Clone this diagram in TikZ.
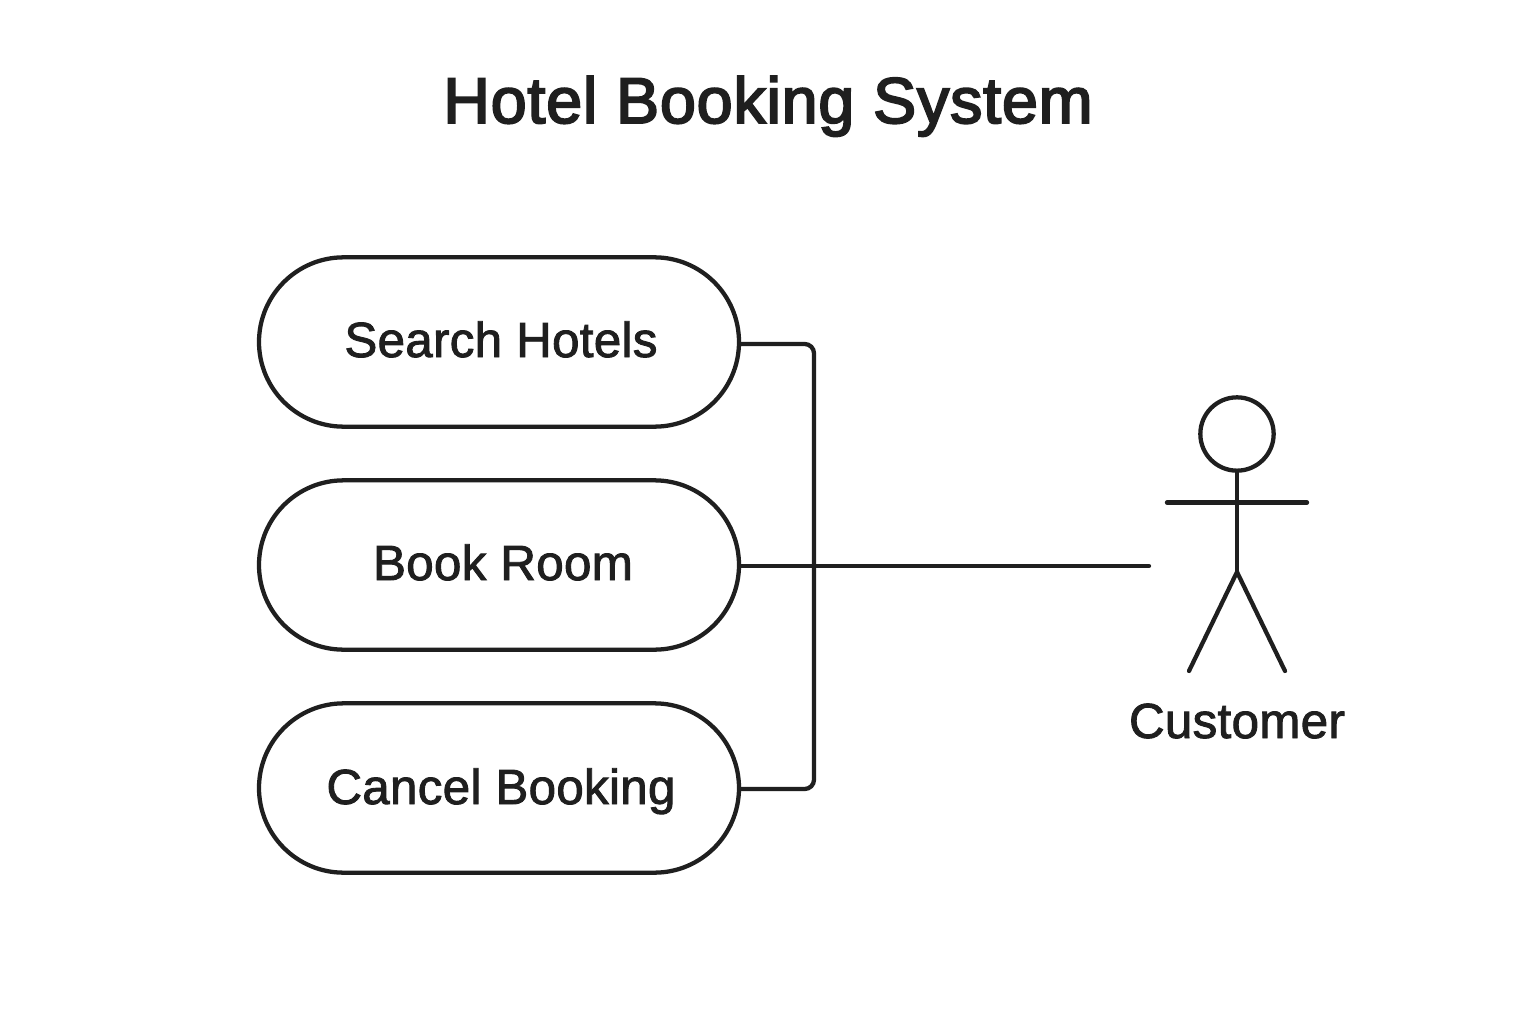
\documentclass[tikz,border=0pt]{standalone}
\usepackage{fontspec}
\setmainfont{Liberation Sans}
\newfontfamily\labelfont[FakeBold=1.8,LetterSpace=0.6]{Liberation Sans}
\newfontfamily\titlefont[FakeBold=3,LetterSpace=1.2]{Liberation Sans}
\definecolor{ink}{HTML}{1F1F1F}
\tikzset{
  px/.style={x=0.75pt,y=-0.75pt},
  usecase/.style={draw=ink,line width=3.2pt,rounded corners=63.5pt,minimum width=360pt,minimum height=127pt,inner sep=0pt},
  conn/.style={draw=ink,line width=3.2pt},
  stick/.style={draw=ink,line width=3.2pt,line cap=round},
  lbl/.style={text=ink,inner sep=0pt,anchor=base,font=\labelfont\fontsize{37}{42}\selectfont}
}
\begin{document}
\begin{tikzpicture}[px]
\useasboundingbox (0,0) rectangle (1536,1024);
\fill[white] (0,0) rectangle (1536,1024);
\node[lbl,font=\titlefont\fontsize{48.5}{56}\selectfont] (title) at (768,123) {Hotel Booking System};
\node[usecase] (search) at (499,342) {};
\node[usecase] (book) at (499,565) {};
\node[usecase] (cancel) at (499,788) {};
\node[lbl] (t1) at (501,357) {Search Hotels};
\node[lbl] (t2) at (503,580) {Book Room};
\node[lbl] (t3) at (501,804) {Cancel Booking};
\coordinate (actorend) at (1149,566);
\draw[conn,rounded corners=7pt] (search.east |- 0,344) -- (814,344) -- (814,789) -- (cancel.east |- 0,789);
\draw[conn,line cap=round] (book.east |- actorend) -- (actorend);
\node[draw=ink,line width=3.2pt,circle,minimum size=55pt,inner sep=0pt] (head) at (1237,434) {};
\coordinate (hip) at (1237,572);
\coordinate (armL) at (1167,502.5);
\coordinate (armR) at (1307,502.5);
\coordinate (footL) at (1189,671);
\coordinate (footR) at (1285,671);
\draw[stick] (head.south) -- (hip);
\draw[stick] (armL) -- (armR);
\draw[stick] (footL) -- (hip) -- (footR);
\node[lbl] (actor) at (1237,738) {Customer};
\end{tikzpicture}
\end{document}
